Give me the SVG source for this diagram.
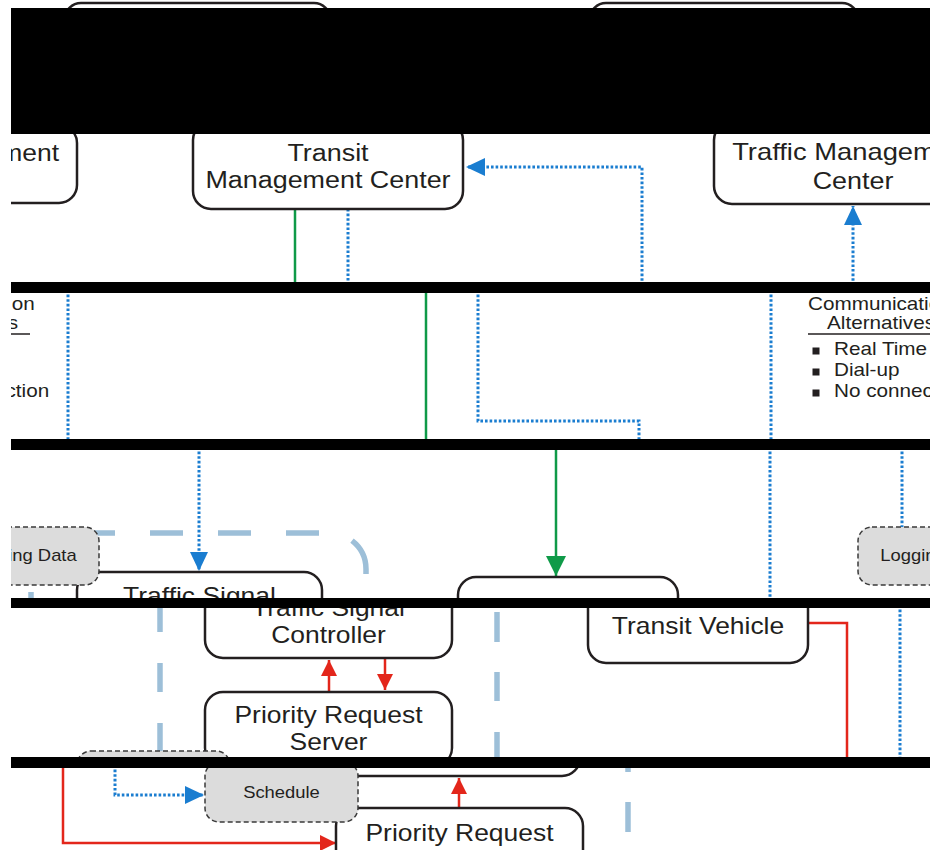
<svg xmlns="http://www.w3.org/2000/svg" width="930" height="850" viewBox="0 0 930 850">
  <style>
    .box{fill:#fff;stroke:#231f20;stroke-width:2.5}
    .note{fill:#dcdcdc;stroke:#3a3a3a;stroke-width:1.5;stroke-dasharray:5 3}
    .lbl{font-family:"Liberation Sans",Arial,sans-serif;font-size:23px;fill:#231f20;text-anchor:middle}
    .sm{font-family:"Liberation Sans",Arial,sans-serif;font-size:16px;fill:#231f20;text-anchor:middle}
    .leg{font-family:"Liberation Sans",Arial,sans-serif;font-size:18px;fill:#231f20}
    .dot{fill:none;stroke:#1a7dd0;stroke-width:3;stroke-dasharray:2.6 2}
    .grn{fill:none;stroke:#0f9a48;stroke-width:2.5}
    .red{fill:none;stroke:#e3261b;stroke-width:2.5}
    .lb{fill:none;stroke:#9dbfd8;stroke-width:5.5}
    .bar{fill:#000}
  </style>
  <defs>
    <marker id="ab" markerUnits="userSpaceOnUse" viewBox="0 0 19 18" markerWidth="19" markerHeight="18" refX="19" refY="9" orient="auto">
      <path d="M0,0 L19,9 L0,18 z" fill="#1a7dd0"/>
    </marker>
    <marker id="ag" markerUnits="userSpaceOnUse" viewBox="0 0 20 20" markerWidth="20" markerHeight="20" refX="20" refY="10" orient="auto">
      <path d="M0,0 L20,10 L0,20 z" fill="#0f9a48"/>
    </marker>
    <marker id="ar" markerUnits="userSpaceOnUse" viewBox="0 0 16 16" markerWidth="16" markerHeight="16" refX="16" refY="8" orient="auto">
      <path d="M0,0 L16,8 L0,16 z" fill="#e3261b"/>
    </marker>
    <clipPath id="cA"><rect x="0" y="0" width="930" height="9"/></clipPath>
    <clipPath id="cB"><rect x="0" y="133" width="930" height="150"/></clipPath>
    <clipPath id="cC"><rect x="0" y="292" width="930" height="148"/></clipPath>
    <clipPath id="cD"><rect x="0" y="449" width="930" height="150"/></clipPath>
    <clipPath id="cE"><rect x="0" y="607" width="930" height="151"/></clipPath>
    <clipPath id="cF"><rect x="0" y="767" width="930" height="83"/></clipPath>
    <!-- communication legend -->
    <g id="legend">
      <text class="leg" transform="translate(808 310) scale(1.15 1)">Communication</text>
      <text class="leg" transform="translate(827 329) scale(1.15 1)">Alternatives</text>
      <line x1="808" y1="334" x2="947" y2="334" stroke="#231f20" stroke-width="1.5"/>
      <rect x="812.5" y="347.5" width="7" height="7" fill="#231f20"/>
      <text class="leg" transform="translate(834 355) scale(1.15 1)">Real Time</text>
      <rect x="812.5" y="368.5" width="7" height="7" fill="#231f20"/>
      <text class="leg" transform="translate(834 376) scale(1.15 1)">Dial-up</text>
      <rect x="812.5" y="389.5" width="7" height="7" fill="#231f20"/>
      <text class="leg" transform="translate(834 397) scale(1.15 1)">No connection</text>
    </g>
  </defs>

  <rect width="930" height="850" fill="#fff"/>

  <!-- band A -->
  <g clip-path="url(#cA)">
    <g id="top-box-1"><rect class="box" x="65" y="3" width="265" height="80" rx="16"/></g>
    <g id="top-box-2"><rect class="box" x="590" y="3" width="268" height="80" rx="16"/></g>
  </g>

  <!-- band B: centers -->
  <g clip-path="url(#cB)">
    <g id="connectors-b">
      <line class="grn" x1="295" y1="209" x2="295" y2="290"/>
      <line class="dot" x1="348" y1="209" x2="348" y2="290"/>
      <path class="dot" d="M642,290 V167 H466" marker-end="url(#ab)"/>
      <path class="dot" d="M853,290 V206" marker-end="url(#ab)"/>
    </g>
    <g id="management-left">
      <rect class="box" x="-200" y="125" width="277" height="78" rx="18"/>
      <text class="lbl" style="text-anchor:end" transform="translate(59 161) scale(1.15 1)">Management</text>
    </g>
    <g id="transit-management-center">
      <rect class="box" x="193" y="122" width="270" height="87" rx="18"/>
      <text class="lbl" transform="translate(328 161) scale(1.17 1)">Transit</text>
      <text class="lbl" transform="translate(328 188) scale(1.17 1)">Management Center</text>
    </g>
    <g id="traffic-management-center">
      <rect class="box" x="714" y="122" width="280" height="82" rx="18"/>
      <text class="lbl" transform="translate(853 160) scale(1.19 1)">Traffic Management</text>
      <text class="lbl" transform="translate(853 189) scale(1.17 1)">Center</text>
    </g>
  </g>

  <!-- band C: communication links -->
  <g clip-path="url(#cC)">
    <g id="connectors-c">
      <line class="dot" x1="68" y1="290" x2="68" y2="442"/>
      <line class="grn" x1="426" y1="290" x2="426" y2="442"/>
      <path class="dot" d="M478,290 V421 H639 V442"/>
      <line class="dot" x1="771" y1="290" x2="771" y2="442"/>
    </g>
    <g id="legend-right"><use href="#legend"/></g>
    <g id="legend-left"><use href="#legend" transform="translate(-917 0)"/></g>
  </g>

  <!-- band D -->
  <g clip-path="url(#cD)">
    <g id="connectors-d">
      <path class="dot" d="M199,447 V571" marker-end="url(#ab)"/>
      <path class="grn" d="M556,447 V576" marker-end="url(#ag)"/>
      <line class="dot" x1="770" y1="447" x2="770" y2="600"/>
      <line class="dot" x1="902" y1="447" x2="902" y2="528"/>
      <line class="lb" x1="82" y1="533" x2="330" y2="533" stroke-dasharray="33 35"/>
      <path class="lb" d="M352,540.6 A36,36 0 0 1 366,569 V574"/>
      <line class="lb" x1="31" y1="592" x2="31" y2="600"/>
    </g>
    <g id="traffic-signal">
      <rect class="box" x="77" y="572" width="245" height="74" rx="18"/>
      <text class="lbl" transform="translate(199.5 604) scale(1.15 1)">Traffic Signal</text>
    </g>
    <g id="transit-vehicle-top">
      <rect class="box" x="458" y="577" width="220" height="74" rx="18"/>
    </g>
    <g id="logging-data-left">
      <rect class="note" x="-55" y="527" width="154" height="58" rx="14"/>
      <text class="sm" transform="translate(22 561) scale(1.15 1)">Logging Data</text>
    </g>
    <g id="logging-data-right">
      <rect class="note" x="858" y="527" width="154" height="58" rx="14"/>
      <text class="sm" transform="translate(935 561) scale(1.15 1)">Logging Data</text>
    </g>
  </g>

  <!-- band E -->
  <g clip-path="url(#cE)">
    <g id="connectors-e">
      <path class="red" d="M329,692 V660" marker-end="url(#ar)"/>
      <path class="red" d="M385,658 V690" marker-end="url(#ar)"/>
      <path class="red" d="M808,623 H847 V760"/>
      <line class="dot" x1="900" y1="605" x2="900" y2="760"/>
      <line class="lb" x1="160" y1="602" x2="160" y2="632"/>
      <line class="lb" x1="160" y1="663" x2="160" y2="692"/>
      <line class="lb" x1="160" y1="723" x2="160" y2="760"/>
      <line class="lb" x1="497" y1="612" x2="497" y2="642"/>
      <line class="lb" x1="497" y1="672" x2="497" y2="701"/>
      <line class="lb" x1="497" y1="732" x2="497" y2="760"/>
    </g>
    <g id="traffic-signal-controller">
      <rect class="box" x="205" y="584" width="247" height="74" rx="18"/>
      <text class="lbl" transform="translate(328.5 616) scale(1.15 1)">Traffic Signal</text>
      <text class="lbl" transform="translate(328.5 643) scale(1.15 1)">Controller</text>
    </g>
    <g id="priority-request-server">
      <rect class="box" x="205" y="692" width="247" height="74" rx="18"/>
      <text class="lbl" transform="translate(328.5 723) scale(1.15 1)">Priority Request</text>
      <text class="lbl" transform="translate(328.5 750) scale(1.15 1)">Server</text>
    </g>
    <g id="transit-vehicle">
      <rect class="box" x="588" y="589" width="220" height="74" rx="18"/>
      <text class="lbl" transform="translate(698 634) scale(1.15 1)">Transit Vehicle</text>
    </g>
    <g id="schedule-top">
      <rect class="note" x="77" y="751" width="153" height="60" rx="14"/>
    </g>
  </g>

  <!-- band F -->
  <g clip-path="url(#cF)">
    <g id="connectors-f">
      <path class="red" d="M459,808 V778" marker-end="url(#ar)"/>
      <path class="red" d="M63,765 V843 H336" marker-end="url(#ar)"/>
      <path class="dot" d="M115,765 V795 H204" marker-end="url(#ab)"/>
      <line class="lb" x1="628" y1="765" x2="628" y2="772"/>
      <line class="lb" x1="628" y1="802" x2="628" y2="832"/>
    </g>
    <g id="priority-request-server-bottom">
      <rect class="box" x="333" y="702" width="247" height="74" rx="18"/>
    </g>
    <g id="priority-request-generator">
      <rect class="box" x="336" y="808" width="247" height="74" rx="18"/>
      <text class="lbl" transform="translate(459.5 841) scale(1.15 1)">Priority Request</text>
    </g>
    <g id="schedule">
      <rect class="note" x="205" y="762" width="153" height="60" rx="14"/>
      <text class="sm" transform="translate(281.5 798) scale(1.15 1)">Schedule</text>
    </g>
  </g>

  <!-- black separator bands -->
  <g id="bands">
    <rect class="bar" x="11" y="8" width="919" height="126"/>
    <rect class="bar" x="11" y="282" width="919" height="11"/>
    <rect class="bar" x="11" y="439" width="919" height="11"/>
    <rect class="bar" x="11" y="598" width="919" height="10"/>
    <rect class="bar" x="11" y="757" width="919" height="11"/>
  </g>
  <rect x="0" y="0" width="11" height="850" fill="#fff"/>
</svg>
